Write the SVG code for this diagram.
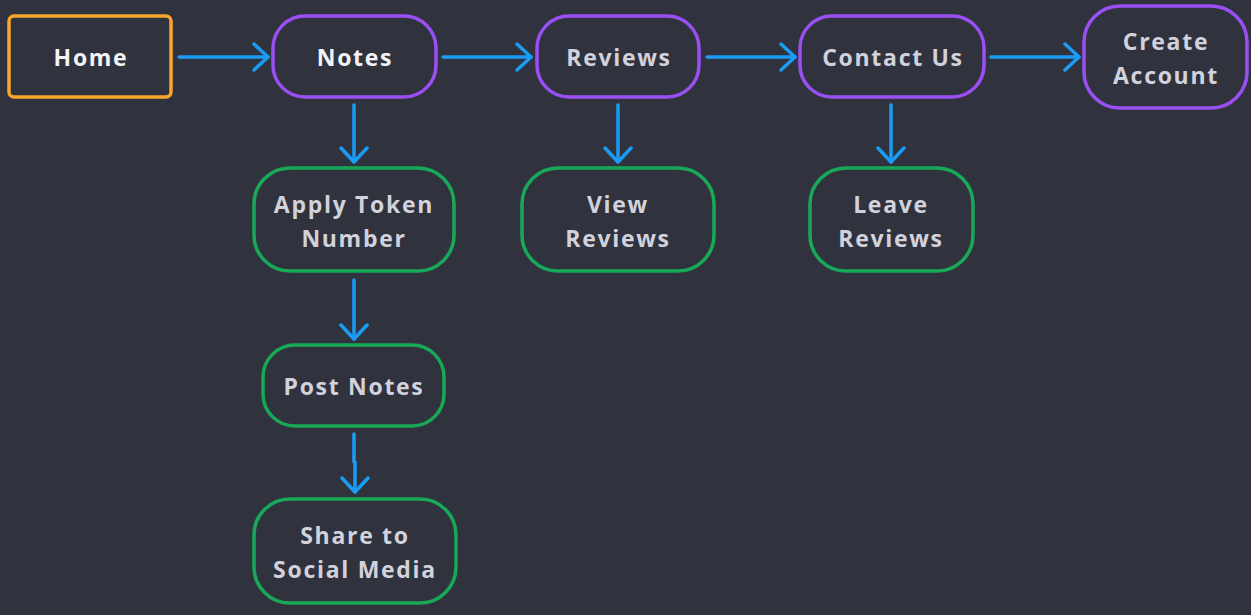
<svg xmlns="http://www.w3.org/2000/svg" width="1251" height="615" viewBox="0 0 1251 615">
<style>
.bg{fill:#30333e}
.n{fill:#30333e;stroke-width:3.5}
.home{stroke:#f9a62b}
.pur{stroke:#9a4ff5}
.grn{stroke:#17a957}
text{font-family:"Open Sans","Noto Sans",sans-serif;font-weight:700;font-size:23px;letter-spacing:1.7px;text-anchor:middle}
.w{fill:#f4f4f6}
.g{fill:#d2d2dc}
.c{stroke:#1a9cf5;stroke-width:3.5;fill:none;stroke-linecap:round;stroke-linejoin:round}
</style>
<defs>
<marker id="ah" viewBox="0 0 20 30" refX="17" refY="15" markerWidth="20" markerHeight="30" markerUnits="userSpaceOnUse" orient="auto">
<path d="M3,2 L17,15 L3,28" fill="none" stroke="#1a9cf5" stroke-width="3.5" stroke-linecap="round" stroke-linejoin="round"/>
</marker>
</defs>
<rect class="bg" x="0" y="0" width="1251" height="615"/>
<g id="connectors">
<path class="c" d="M179,57 H268" marker-end="url(#ah)"/>
<path class="c" d="M443,57 H531" marker-end="url(#ah)"/>
<path class="c" d="M707,57 H795" marker-end="url(#ah)"/>
<path class="c" d="M991,57 H1079" marker-end="url(#ah)"/>
<path class="c" d="M354,105 V162" marker-end="url(#ah)"/>
<path class="c" d="M618,105 V162" marker-end="url(#ah)"/>
<path class="c" d="M891,105 V162" marker-end="url(#ah)"/>
<path class="c" d="M354,280 V339" marker-end="url(#ah)"/>
<path class="c" d="M354,434 V462 H355 V492" marker-end="url(#ah)"/>
</g>
<g id="home">
<rect class="n home" x="9" y="16" width="162" height="81" rx="5"/>
<text class="w" x="91" y="66">Home</text>
</g>
<g id="notes">
<rect class="n pur" x="273" y="16" width="163" height="81" rx="32"/>
<text class="w" x="355" y="66">Notes</text>
</g>
<g id="reviews">
<rect class="n pur" x="537" y="16" width="162" height="81" rx="32"/>
<text class="g" x="619" y="66">Reviews</text>
</g>
<g id="contact">
<rect class="n pur" x="800" y="16" width="184" height="81" rx="32"/>
<text class="g" x="893" y="66">Contact Us</text>
</g>
<g id="create">
<rect class="n pur" x="1084" y="6" width="163" height="102" rx="36"/>
<text class="g" x="1166" y="50">Create</text>
<text class="g" x="1166" y="84">Account</text>
</g>
<g id="apply">
<rect class="n grn" x="254" y="168" width="200" height="103" rx="36"/>
<text class="g" x="354" y="213">Apply Token</text>
<text class="g" x="354" y="247">Number</text>
</g>
<g id="view">
<rect class="n grn" x="522" y="168" width="192" height="103" rx="36"/>
<text class="g" x="618" y="213">View</text>
<text class="g" x="618" y="247">Reviews</text>
</g>
<g id="leave">
<rect class="n grn" x="810" y="168" width="163" height="103" rx="36"/>
<text class="g" x="891" y="213">Leave</text>
<text class="g" x="891" y="247">Reviews</text>
</g>
<g id="post">
<rect class="n grn" x="263" y="345" width="181" height="81" rx="32"/>
<text class="g" x="354" y="395">Post Notes</text>
</g>
<g id="share">
<rect class="n grn" x="254" y="499" width="202" height="104" rx="36"/>
<text class="g" x="355" y="544">Share to</text>
<text class="g" x="355" y="578">Social Media</text>
</g>
</svg>
